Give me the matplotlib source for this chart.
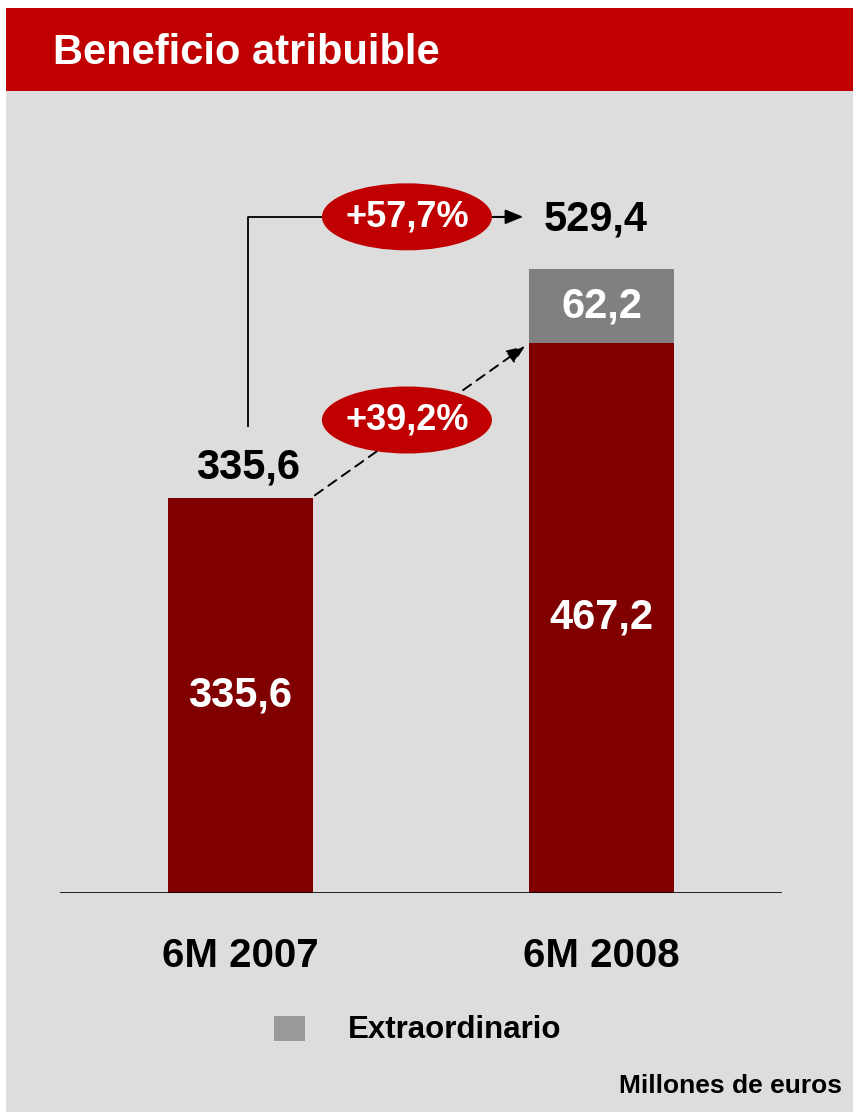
import matplotlib
matplotlib.use("Agg")
import matplotlib.pyplot as plt
from matplotlib.patches import Rectangle, Ellipse

plt.rcParams['font.family'] = ['Liberation Sans', 'DejaVu Sans']
plt.rcParams['font.weight'] = 'bold'

# ---- data ----
categories = ["6M 2007", "6M 2008"]
ordinario = [335.6, 467.2]
extraordinario = [0.0, 62.2]
totales = [335.6, 529.4]
var_total = "+57,7%"
var_ordinario = "+39,2%"
title = "Beneficio atribuible"
legend_label = "Extraordinario"
units = "Millones de euros"

def fmt(v):
    return f"{v:.1f}".replace(".", ",")

W, H = 854, 1112
fig = plt.figure(figsize=(W / 100, H / 100), dpi=100, facecolor="white")

RED = "#C00000"
DARK = "#800000"
GREY = "#808080"
PANEL = "#DDDDDD"

def fx(px):
    return px / W

def fy(py):
    return 1 - py / H

fig.patches.append(Rectangle((fx(6), 0), 1 - fx(6), fy(8), transform=fig.transFigure,
                             facecolor=PANEL, edgecolor="none", zorder=-2))
fig.patches.append(Rectangle((fx(6), fy(91)), 1 - fx(6), fy(8) - fy(91), transform=fig.transFigure,
                             facecolor=RED, edgecolor="none", zorder=-1))
fig.text(fx(53), fy(53), title, color="white", fontsize=30, fontweight="bold",
         ha="left", va="center")

# main axes: baseline at y=893 px, top at 100 px, x from 60 to 782 px
ax = fig.add_axes([fx(60), fy(893), fx(782) - fx(60), (893 - 100) / H])
ax.set_zorder(3)
ax.set_facecolor("none")
ax.set_xlim(-0.5, 1.5)
ax.set_ylim(0, 793 / 1.178)
for s in ax.spines.values():
    s.set_visible(False)
ax.axhline(0, color="black", lw=1.2, zorder=3)

x = list(range(len(categories)))
bw = 0.4
ax.bar(x, ordinario, width=bw, color=DARK, zorder=2)
ax.bar(x, extraordinario, bottom=ordinario, width=bw, color=GREY, zorder=2)

ax.set_xticks(x)
ax.set_xticklabels(categories, fontsize=29, fontweight="bold")
ax.tick_params(axis="x", length=0, pad=32)
ax.set_yticks([])

# values inside bars
ax.text(x[0], ordinario[0] * 0.50, fmt(ordinario[0]), color="white", fontsize=30,
        fontweight="bold", ha="center", va="center", zorder=5)
ax.text(x[1], ordinario[1] * 0.50, fmt(ordinario[1]), color="white", fontsize=30,
        fontweight="bold", ha="center", va="center", zorder=5)
ax.text(x[1], ordinario[1] + extraordinario[1] / 2, fmt(extraordinario[1]), color="white",
        fontsize=30, fontweight="bold", ha="center", va="center", zorder=5)

# totals above
ax.text(x[0] + 0.02, totales[0] + 26, fmt(totales[0]), color="black", fontsize=30,
        fontweight="bold", ha="center", va="center", zorder=5)
top_y = 574
ax.text(x[1] - 0.015, top_y - 2, fmt(totales[1]), color="black", fontsize=30,
        fontweight="bold", ha="center", va="center", zorder=5)

# elbow connector with arrow
x0 = x[0] + 0.02
ax.plot([x0, x0, 0.74], [totales[0] + 60, top_y, top_y], color="black", lw=1.3, zorder=3,
        solid_capstyle="butt")
ax.annotate("", xy=(0.783, top_y), xytext=(0.70, top_y),
            arrowprops=dict(arrowstyle="-|>,head_length=1.1,head_width=0.45", color="black",
                            lw=1.3, shrinkA=0, shrinkB=0), zorder=3)

# dashed arrow from bar1 top to bar2 ordinary top
ax.annotate("", xy=(0.788, ordinario[1] - 3), xytext=(0.206, totales[0] + 2),
            arrowprops=dict(arrowstyle="-|>,head_length=1.1,head_width=0.45", color="black",
                            lw=1.4, ls=(0, (5, 3.5)), shrinkA=0, shrinkB=0), zorder=3)

# ellipses with variations
ew, eh = 170 / 361, 67 / 1.178
for cy, lab in [(top_y, var_total), ((893 - 420) / 1.178, var_ordinario)]:
    ax.add_patch(Ellipse((0.461, cy), ew, eh, facecolor=RED, edgecolor="none", zorder=4))
    ax.text(0.461, cy, lab, color="white", fontsize=26, fontweight="bold",
            ha="center", va="center", zorder=5)

# legend
fig.patches.append(Rectangle((fx(274), fy(1041)), fx(305) - fx(274), fy(1016) - fy(1041),
                             transform=fig.transFigure, facecolor="#999999",
                             edgecolor="none", zorder=2))
fig.text(fx(348), fy(1030), legend_label, fontsize=22.5, fontweight="bold",
         ha="left", va="center", color="black")

fig.text(fx(842), fy(1086), units, fontsize=19, fontweight="bold",
         ha="right", va="center", color="black")

fig.savefig("out.png", dpi=100, facecolor="white")
